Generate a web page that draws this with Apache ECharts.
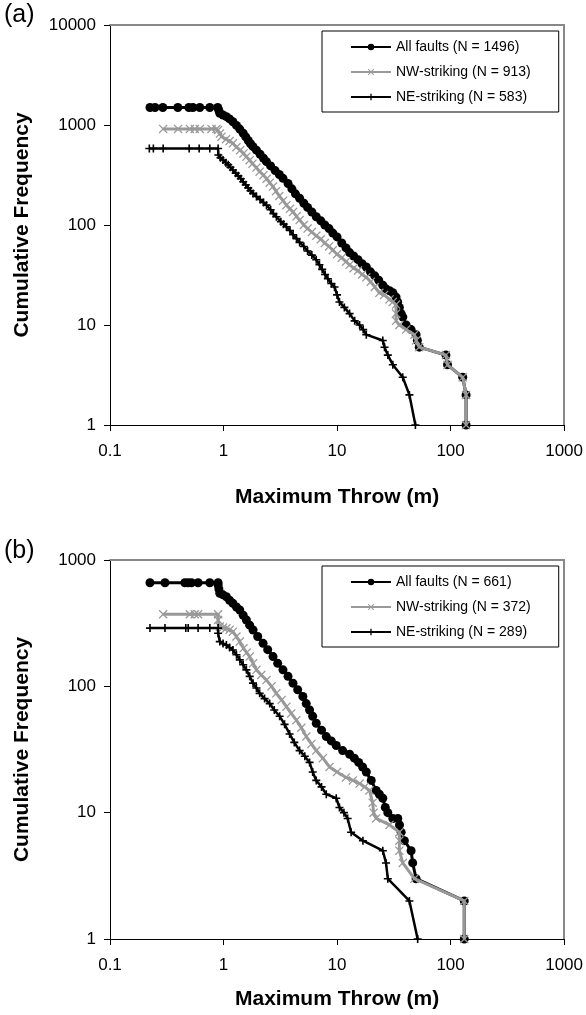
<!DOCTYPE html>
<html><head><meta charset="utf-8">
<script src="https://cdn.jsdelivr.net/npm/echarts@6/dist/echarts.min.js"></script>
<style>html,body{margin:0;padding:0;background:#fff}#c{width:586px;height:1015px}</style>
</head><body><div id="c"></div>
<script>
// ---- Data (Maximum throw in m, cumulative frequency) ----
const namesA = ['All faults (N = 1496)', 'NW-striking (N = 913)', 'NE-striking (N = 583)'];
const namesB = ['All faults (N = 661)', 'NW-striking (N = 372)', 'NE-striking (N = 289)'];
const panelLabels = ['(a)', '(b)'];
const xTitle = 'Maximum Throw (m)';
const yTitle = 'Cumulative Frequency';

const aAll = [[0.225,1496],[0.249,1496],[0.292,1496],[0.396,1496],[0.495,1496],[0.537,1496],[0.618,1496],[0.757,1496],[0.889,1496],
  [0.91,1400],[0.927,1309],[0.99,1260],[1.06,1211],[1.13,1150],[1.21,1079],[1.3,990],[1.39,910],[1.49,826],[1.57,760],[1.65,700],
  [1.73,650],[1.82,607],[1.95,560],[2.1,510],[2.25,465],[2.39,430],[2.6,390],[2.85,350],[3.1,320],[3.34,293],[3.7,260],[4.0,230],
  [4.3,205],[4.68,185],[5.1,165],[5.5,150],[6.0,135],[6.56,121],[7.2,110],[7.8,100],[8.5,92],[9.18,83],[10,76],[11,66],[12,59],
  [12.9,53],[14,49],[15.3,45],[16.6,41],[18.1,38],[19.7,34],[21.5,31],[23.3,28],[25.3,25],[27,23],[29,22],[31,21],[33.1,19],
  [34.2,17],[35.4,15],[36.7,13],[38,12],[40.6,10],[44.9,9],[49.7,8],[51,7],[53,6],[91,5],[94,4],[128,3],[137,2],[137,1]];
const aNW = [[0.294,913],[0.398,913],[0.505,913],[0.558,913],[0.618,913],[0.783,913],[0.867,913],
  [0.896,891],[0.93,820],[0.96,764],[1.05,720],[1.13,690],[1.21,656],[1.3,600],[1.4,560],[1.5,520],[1.59,482],[1.7,445],[1.8,410],
  [1.95,375],[2.08,341],[2.25,315],[2.4,290],[2.55,265],[2.73,242],[2.9,218],[3.1,195],[3.35,175],[3.58,158],[3.85,145],[4.1,135],
  [4.4,122],[4.68,112],[5.1,100],[5.5,92],[6.0,85],[6.56,78],[7.2,72],[7.8,66],[8.5,61],[9.18,56],[10,51],[11,47],[12,43],[12.9,40],
  [14,37],[15.3,35],[16.6,32],[18.1,30],[19.8,27],[21.5,24],[23.6,21],[26,20],[29,18],[31,17],[33.1,16],[33.1,13],[33.1,11],
  [35.4,10],[40.6,9],[48,8],[49.7,7],[53,6],[91,5],[94,4],[128,3],[137,2],[137,1]];
const aNE = [[0.222,583],[0.241,583],[0.294,583],[0.498,583],[0.610,583],[0.757,583],[0.896,583],
  [0.90,501],[0.94,470],[0.99,447],[1.05,420],[1.1,400],[1.15,378],[1.21,355],[1.28,330],[1.35,310],[1.42,290],[1.49,271],[1.57,252],
  [1.65,235],[1.73,220],[1.82,207],[1.95,193],[2.1,180],[2.25,168],[2.39,158],[2.6,142],[2.75,130],[2.92,121],[3.2,108],[3.38,102],
  [3.58,96],[3.85,88],[4.1,80],[4.4,73],[4.68,67],[5.1,61],[5.5,55],[6.0,50],[6.56,45],[7.0,40],[7.4,36],[7.85,32],[8.3,29],
  [8.9,26],[9.5,24],[10,20],[10.5,17],[11.6,15],[12.9,13],[14.3,11],[15.8,10],[17,9],[18.1,8],[25.3,7],[26.2,6],[28,5],[31,4],
  [37.9,3],[43.4,2],[49,1]];

const bAll = [[0.225,661],[0.305,661],[0.456,661],[0.488,661],[0.522,661],[0.597,661],[0.757,661],[0.896,661],
  [0.896,634],[0.91,590],[0.927,545],[0.99,530],[1.06,512],[1.13,480],[1.21,454],[1.3,425],[1.39,402],[1.49,365],[1.59,335],
  [1.7,305],[1.82,279],[2.0,248],[2.23,219],[2.45,195],[2.73,172],[3.0,152],[3.34,135],[3.7,120],[4.09,106],[4.5,94],[5.0,83],
  [5.35,73],[5.73,65],[6.1,58],[6.56,51],[7.3,45],[8.04,40],[8.9,37],[9.84,34],[11.2,31],[12.9,29],[14.2,27],[15.5,25],[16.8,23],
  [18.1,21],[20,18],[22.1,15],[23.6,14],[25.3,13],[26.6,11],[28,10],[31,9],[34.3,9],[35.5,8],[36.7,7],[39.2,6],[44.9,5],[46.4,4],
  [49.7,3],[132,2],[132,1]];
const bNW = [[0.294,372],[0.505,372],[0.558,372],[0.597,372],[0.896,372],
  [0.896,335],[0.927,297],[0.99,292],[1.06,288],[1.13,280],[1.21,271],[1.3,248],[1.39,226],[1.5,200],[1.6,185],[1.70,172],
  [1.82,152],[1.95,135],[2.15,123],[2.39,112],[2.65,100],[2.92,88],[3.25,78],[3.58,69],[3.95,61],[4.38,54],[4.85,47],[5.36,40],
  [5.95,35],[6.56,31],[7.5,27],[8.59,23],[10,21],[12.0,19],[13.8,18],[15.8,17],[17.5,16],[19.3,15],[20.6,12],[21,10],[22.1,9],
  [29,8],[35.4,7],[35.4,6],[35.4,5],[37.9,4],[48,3],[132,2],[132,1]];
const bNE = [[0.225,289],[0.305,289],[0.465,289],[0.488,289],[0.597,289],[0.757,289],[0.896,289],
  [0.896,263],[0.927,226],[0.99,218],[1.06,212],[1.13,203],[1.21,194],[1.3,178],[1.39,162],[1.49,148],[1.59,135],[1.7,120],
  [1.82,106],[1.95,97],[2.08,88],[2.3,80],[2.55,73],[2.8,65],[3.12,58],[3.45,50],[3.82,42],[4.2,36],[4.68,31],[5.2,28],[5.73,25],
  [6.1,21],[6.56,18],[7.3,16],[8.04,14],[9.84,13],[10.5,11],[11.5,10],[12.4,9],[13.3,7],[16.9,6],[25.3,5],[27,4],[28,3],
  [43.4,2],[51.3,1]];

// ---- Styling ----
const FONT = 'Liberation Sans, Arial, sans-serif';
const X_SYM = 'path://M1,0 L5,4 L9,0 L10,1 L6,5 L10,9 L9,10 L5,6 L1,10 L0,9 L4,5 L0,1 Z';
const PLUS_SYM = 'path://M4,0 H6 V4 H10 V6 H6 V10 H4 V6 H0 V4 H4 Z';
const fmt = v => v >= 1 ? String(Math.round(v)) : String(+v.toPrecision(2));

const grids = [
  {left: 110, top: 25, width: 455, height: 400},
  {left: 110, top: 560, width: 455, height: 379}
];
const xAxes = [], yAxes = [];
[[0.1,1000,10000,62],[0.1,1000,1000,50]].forEach((p, g) => {
  xAxes.push({type:'log', logBase:10, gridIndex:g, min:p[0], max:p[1], position:'bottom',
    name: xTitle, nameLocation:'middle', nameGap: p[3],
    nameTextStyle:{fontFamily:FONT, fontSize:21, fontWeight:'bold', color:'#000'},
    axisLine:{show:true, onZero:false, lineStyle:{color:'#000', width:1}},
    axisTick:{show:true, length:6, lineStyle:{color:'#000'}},
    axisLabel:{fontFamily:FONT, fontSize:17, color:'#000', margin:18, formatter:fmt},
    splitLine:{show:false}, minorTick:{show:false}});
  xAxes.push({type:'value', gridIndex:g, min:0, max:1, position:'top',
    axisLine:{show:true, onZero:false, lineStyle:{color:'#888', width:2}},
    axisTick:{show:false}, axisLabel:{show:false}, splitLine:{show:false}});
  yAxes.push({type:'log', logBase:10, gridIndex:g, min:1, max:p[2], position:'left',
    name: yTitle, nameLocation:'middle', nameGap:77,
    nameTextStyle:{fontFamily:FONT, fontSize:21, fontWeight:'bold', color:'#000'},
    axisLine:{show:true, onZero:false, lineStyle:{color:'#000', width:1}},
    axisTick:{show:true, length:6, lineStyle:{color:'#000'}},
    axisLabel:{fontFamily:FONT, fontSize:17, color:'#000', margin:14, formatter:fmt},
    splitLine:{show:false}, minorTick:{show:false}});
  yAxes.push({type:'value', gridIndex:g, min:0, max:1, position:'right',
    axisLine:{show:true, onZero:false, lineStyle:{color:'#888', width:2}},
    axisTick:{show:false}, axisLabel:{show:false}, splitLine:{show:false}});
});

function mk(name, data, g, kind) {
  const s = {name, type:'line', data, xAxisIndex:g*2, yAxisIndex:g*2, animation:false,
    showSymbol:true, showAllSymbol:true, clip:false};
  if (kind === 'all') Object.assign(s, {symbol:'circle', symbolSize:9, z:2,
    itemStyle:{color:'#000'}, lineStyle:{color:'#000', width:3}});
  if (kind === 'nw') Object.assign(s, {symbol:X_SYM, symbolSize:9, z:3,
    itemStyle:{color:'#999'}, lineStyle:{color:'#999', width:3}});
  if (kind === 'ne') Object.assign(s, {symbol:PLUS_SYM, symbolSize:8, z:4,
    itemStyle:{color:'#000'}, lineStyle:{color:'#000', width:2.5}});
  return s;
}
const series = [
  mk(namesA[0], aAll, 0, 'all'), mk(namesA[1], aNW, 0, 'nw'), mk(namesA[2], aNE, 0, 'ne'),
  mk(namesB[0], bAll, 1, 'all'), mk(namesB[1], bNW, 1, 'nw'), mk(namesB[2], bNE, 1, 'ne')
];
const legendBase = {orient:'vertical', left:322, padding:[9,28,8,28], itemGap:11, itemWidth:40, itemHeight:8,
  borderColor:'#000', borderWidth:1, backgroundColor:'#fff',
  textStyle:{fontFamily:FONT, fontSize:14, color:'#000'}};
const option = {
  backgroundColor:'#fff',
  animation:false,
  grid: grids,
  xAxis: xAxes, yAxis: yAxes,
  legend: [Object.assign({top:31, data:namesA}, legendBase), Object.assign({top:566, data:namesB}, legendBase)],
  graphic: [
    {type:'text', left:4, top:3, style:{text:panelLabels[0], font:'25px ' + FONT, fill:'#000'}},
    {type:'text', left:4, top:539, style:{text:panelLabels[1], font:'25px ' + FONT, fill:'#000'}}
  ],
  series
};
const chart = echarts.init(document.getElementById('c'));
chart.setOption(option);
</script></body></html>
